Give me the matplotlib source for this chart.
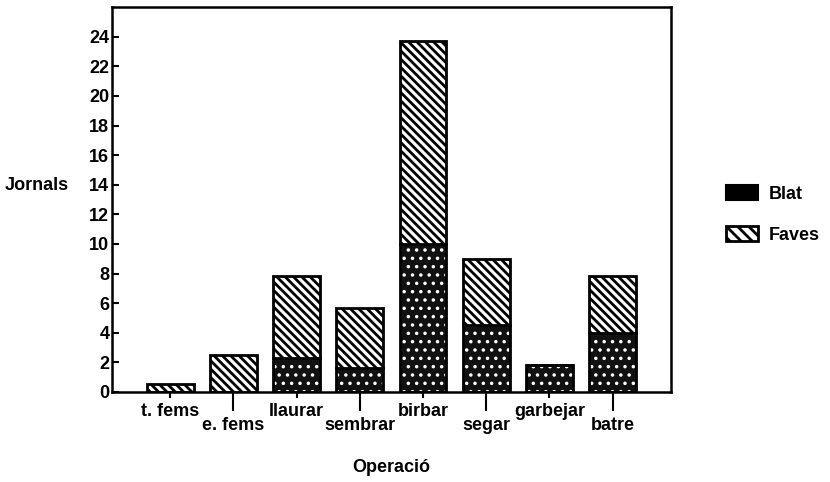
import matplotlib
matplotlib.use('Agg')
from matplotlib import pyplot as plt
from matplotlib.patches import Patch
import numpy as np

plt.rcParams['font.family'] = ['Liberation Sans', 'DejaVu Sans']
plt.rcParams['font.weight'] = 'bold'

# data (jornals per operation)
operacions = ['t. fems', 'e. fems', 'llaurar', 'sembrar', 'birbar', 'segar', 'garbejar', 'batre']
blat = [0, 0, 2.3, 1.6, 10.0, 4.5, 1.8, 4.0]
faves = [0.5, 2.5, 5.5, 4.1, 13.7, 4.5, 0, 3.8]

x = np.arange(len(operacions))
w = 0.74

fig = plt.figure(figsize=(8.3, 4.82), dpi=100)
ax = fig.add_axes([0.135, 0.187, 0.673, 0.798])

# Blat: dark fill with small white dots
plt.rcParams['hatch.linewidth'] = 1.3
ax.bar(x, blat, w, color='#111111', edgecolor='white', hatch='..', linewidth=0)
ax.bar(x, blat, w, fill=False, edgecolor='black', linewidth=2)

# Faves: white with diagonal stripes
plt.rcParams['hatch.linewidth'] = 2.0
ax.bar(x, faves, w, bottom=blat, color='white', edgecolor='black', hatch='\\\\\\\\', linewidth=2)

ax.set_xlim(-0.92, 7.92)
ax.set_ylim(0, 26)
ax.set_yticks(range(0, 25, 2))

# staggered x labels: short ticks for even, long ticks for odd
ax.set_xticks(x[::2], operacions[::2])
ax.set_xticks(x[1::2], operacions[1::2], minor=True)
ax.tick_params(axis='x', which='major', direction='out', length=4, width=1.5, labelsize=13, pad=4)
ax.tick_params(axis='x', which='minor', direction='out', length=14, width=1.5, labelsize=13, pad=4)
ax.tick_params(axis='y', direction='in', length=5, width=1.5, labelsize=13, pad=2)

for s in ax.spines.values():
    s.set_linewidth(1.8)

ax.set_xlabel('Operació', fontsize=13, fontweight='bold', labelpad=18)
fig.text(0.006, 0.615, 'Jornals', fontsize=13, fontweight='bold', va='center', ha='left')

plt.rcParams['hatch.linewidth'] = 2.0
handles = [Patch(facecolor='black', edgecolor='black', linewidth=1.5),
           Patch(facecolor='white', edgecolor='black', hatch='\\\\\\', linewidth=2)]
fig.legend(handles, ['Blat', 'Faves'], loc='center left', bbox_to_anchor=(0.855, 0.555),
           frameon=False, fontsize=13, handlelength=1.8, handleheight=0.9,
           labelspacing=1.3, handletextpad=0.6)

plt.savefig('out.png', dpi=100)
